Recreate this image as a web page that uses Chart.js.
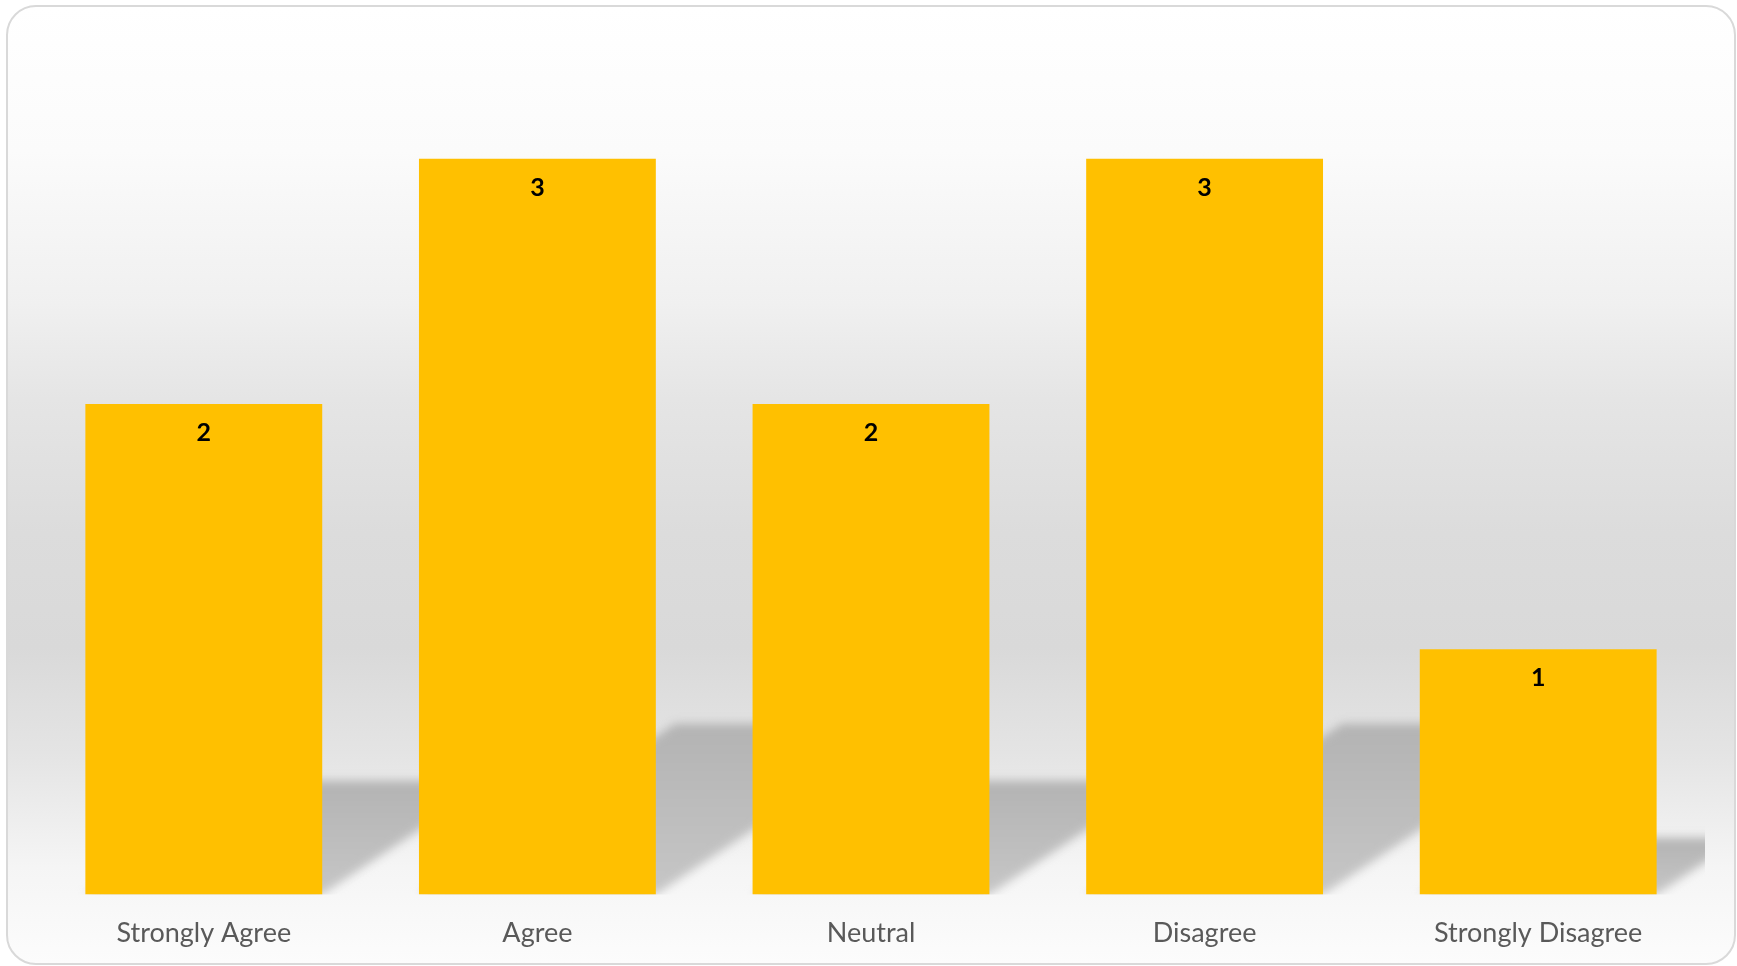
<!DOCTYPE html>
<html>
<head>
<meta charset="utf-8">
<script src="https://cdn.jsdelivr.net/npm/chart.js@4/dist/chart.umd.min.js"></script>
<style>
  html, body { margin: 0; padding: 0; background: #ffffff; width: 1737px; height: 966px; overflow: hidden; }
  #card {
    position: absolute; left: 6px; top: 5px; width: 1730px; height: 960px;
    box-sizing: border-box; border: 2px solid #d9d9d9; border-radius: 30px;
    background: linear-gradient(to bottom, #ffffff 0%, #fbfbfb 15%, #f0f0f0 31%, #e5e5e5 41%, #dcdcdc 55%, #d9d9d9 67%, #e4e4e4 78%, #f5f5f5 90%, #fcfcfc 100%);
  }
  #c { position: absolute; left: 0; top: 0; }
</style>
</head>
<body>
<div id="card"></div>
<canvas id="c" width="1737" height="971"></canvas>
<script>
const categories = ["Strongly Agree", "Agree", "Neutral", "Disagree", "Strongly Disagree"];
const counts = [2, 3, 2, 3, 1];
const seriesName = "Responses";

const barShadow = {
  id: 'barShadow',
  beforeDatasetsDraw(chart) {
    const ctx = chart.ctx;
    const area = chart.chartArea;
    const meta = chart.getDatasetMeta(0);
    ctx.save();
    ctx.beginPath();
    ctx.rect(area.left, area.top, area.right - area.left, area.bottom - area.top);
    ctx.clip();
    ctx.filter = 'blur(5px)';
    meta.data.forEach(bar => {
      const h = bar.base - bar.y;
      const sh = h * 0.232;
      const dx = sh * 1.5;
      const xl = bar.x - bar.width / 2;
      const xr = bar.x + bar.width / 2;
      const b = bar.base;
      const g = ctx.createLinearGradient(0, b - sh, 0, b);
      g.addColorStop(0, '#b3b3b3');
      g.addColorStop(1, '#c6c6c6');
      ctx.fillStyle = g;
      ctx.beginPath();
      ctx.moveTo(xl, b);
      ctx.lineTo(xr, b);
      ctx.lineTo(xr + dx, b - sh);
      ctx.lineTo(xl + dx, b - sh);
      ctx.closePath();
      ctx.fill();
    });
    ctx.restore();
  }
};

const valueLabels = {
  id: 'valueLabels',
  afterDatasetsDraw(chart) {
    const ctx = chart.ctx;
    const meta = chart.getDatasetMeta(0);
    ctx.save();
    ctx.font = 'bold 25px Lato, "Open Sans", sans-serif';
    ctx.fillStyle = '#000000';
    ctx.textAlign = 'center';
    ctx.textBaseline = 'middle';
    meta.data.forEach((bar, i) => {
      ctx.fillText(String(counts[i]), bar.x, bar.y + 29);
    });
    ctx.restore();
  }
};

new Chart(document.getElementById('c'), {
  type: 'bar',
  data: {
    labels: categories,
    datasets: [{
      label: seriesName,
      data: counts,
      backgroundColor: '#FFC000',
      borderWidth: 0,
      categoryPercentage: 1,
      barPercentage: 0.71
    }]
  },
  options: {
    responsive: false,
    animation: false,
    devicePixelRatio: 1,
    layout: { padding: { left: 37, right: 32, top: 36, bottom: 0 } },
    plugins: { legend: { display: false }, tooltip: { enabled: false } },
    scales: {
      x: {
        grid: { display: false, drawTicks: false },
        border: { display: false },
        ticks: {
          color: '#595959',
          font: { family: 'Lato, "Open Sans", sans-serif', size: 27 },
          padding: 22,
          maxRotation: 0,
          autoSkip: false
        }
      },
      y: {
        display: false,
        min: 0,
        max: 3.5
      }
    }
  },
  plugins: [barShadow, valueLabels]
});
</script>
</body>
</html>
